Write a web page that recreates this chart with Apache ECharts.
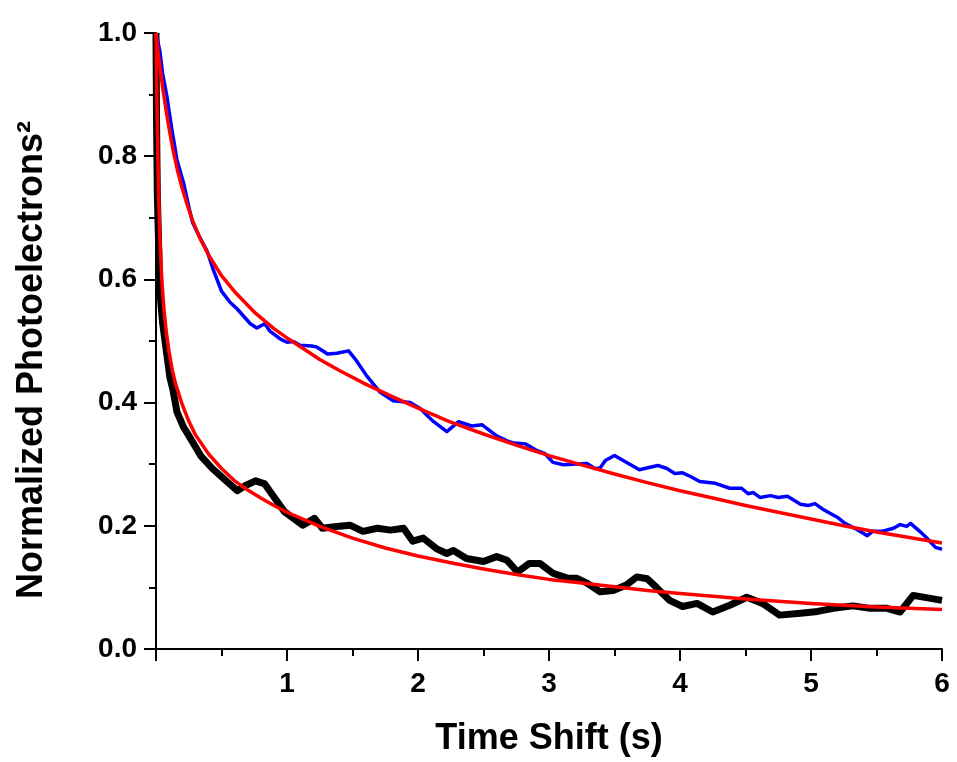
<!DOCTYPE html>
<html>
<head>
<meta charset="utf-8">
<script src="https://cdn.jsdelivr.net/npm/echarts@6/dist/echarts.min.js"></script>
<style>
html,body{margin:0;padding:0;background:#fff;}
#chart{width:957px;height:762px;}
</style>
</head>
<body>
<div id="chart"></div>
<script>
// x tick labels / y tick labels
var xTicks = [0, 1, 2, 3, 4, 5, 6];
var yTicks = [0.0, 0.2, 0.4, 0.6, 0.8, 1.0];

// Blue measured curve [time (s), value]
var blueData = [
  [0,1.0],[0.01,0.99],[0.03,0.97],[0.05,0.935],[0.084,0.896],[0.12,0.845],[0.16,0.794],[0.21,0.757],
  [0.26,0.709],[0.28,0.692],[0.33,0.67],[0.39,0.646],[0.435,0.617],[0.50,0.581],[0.565,0.563],
  [0.62,0.552],[0.72,0.528],[0.77,0.521],[0.83,0.528],[0.87,0.516],[0.95,0.503],[1.0,0.498],
  [1.05,0.499],[1.10,0.493],[1.19,0.492],[1.23,0.490],[1.31,0.479],[1.38,0.480],[1.47,0.484],
  [1.53,0.468],[1.61,0.443],[1.71,0.417],[1.81,0.403],[1.94,0.40],[2.02,0.39],[2.07,0.379],
  [2.12,0.369],[2.17,0.361],[2.22,0.353],[2.31,0.369],[2.41,0.362],[2.49,0.364],[2.60,0.346],
  [2.68,0.338],[2.72,0.335],[2.82,0.333],[2.91,0.322],[2.97,0.317],[3.03,0.303],[3.11,0.299],
  [3.29,0.301],[3.35,0.293],[3.39,0.294],[3.43,0.306],[3.50,0.314],[3.59,0.303],[3.69,0.291],
  [3.83,0.298],[3.90,0.293],[3.96,0.285],[4.02,0.286],[4.08,0.28],[4.15,0.272],[4.27,0.269],
  [4.38,0.261],[4.47,0.261],[4.52,0.252],[4.56,0.254],[4.61,0.246],[4.69,0.249],[4.75,0.246],
  [4.82,0.248],[4.92,0.235],[4.98,0.233],[5.03,0.236],[5.09,0.227],[5.20,0.214],[5.26,0.204],
  [5.35,0.194],[5.43,0.184],[5.47,0.191],[5.54,0.191],[5.63,0.196],[5.68,0.202],[5.73,0.199],
  [5.76,0.204],[5.83,0.191],[5.88,0.181],[5.95,0.165],[6.0,0.162]
];

// Upper red fit
var fitUpper = [
  [0,1.0],[0.01,0.98],[0.02,0.962],[0.035,0.937],[0.05,0.913],[0.075,0.877],[0.1,0.845],[0.13,0.81],
  [0.165,0.776],[0.2,0.748],[0.24,0.72],[0.28,0.695],[0.34,0.665],[0.4,0.64],[0.5,0.606],[0.6,0.58],
  [0.75,0.547],[0.9,0.52],[1.0,0.505],[1.1,0.491],[1.25,0.47],[1.4,0.452],[1.6,0.43],[1.8,0.41],
  [2.0,0.391],[2.24,0.369],[2.5,0.349],[2.75,0.331],[3.0,0.314],[3.25,0.299],[3.5,0.284],[3.75,0.27],
  [4.0,0.257],[4.25,0.245],[4.5,0.233],[4.75,0.222],[5.0,0.211],[5.25,0.2],[5.5,0.19],[5.75,0.181],[6.0,0.172]
];

// Black measured curve (centre of noisy band)
var blackData = [
  [0,1.0],[0.004,0.86],[0.01,0.74],[0.015,0.697],[0.03,0.58],[0.05,0.53],[0.08,0.482],[0.107,0.44],
  [0.13,0.42],[0.16,0.385],[0.21,0.36],[0.24,0.35],[0.31,0.325],[0.34,0.314],[0.43,0.293],[0.54,0.272],
  [0.62,0.257],[0.68,0.265],[0.76,0.273],[0.83,0.268],[0.91,0.244],[0.98,0.223],[1.05,0.212],
  [1.12,0.201],[1.21,0.212],[1.27,0.196],[1.38,0.199],[1.48,0.201],[1.58,0.191],[1.69,0.196],
  [1.79,0.193],[1.89,0.196],[1.96,0.175],[2.04,0.18],[2.14,0.163],[2.22,0.155],[2.27,0.16],
  [2.37,0.147],[2.5,0.142],[2.6,0.15],[2.68,0.144],[2.76,0.125],[2.85,0.139],[2.93,0.139],
  [3.03,0.123],[3.14,0.115],[3.21,0.115],[3.29,0.107],[3.39,0.093],[3.49,0.095],[3.59,0.104],
  [3.67,0.117],[3.75,0.114],[3.82,0.1],[3.92,0.079],[4.02,0.069],[4.13,0.074],[4.25,0.06],
  [4.38,0.071],[4.51,0.084],[4.63,0.074],[4.76,0.055],[4.92,0.058],[5.05,0.061],[5.17,0.066],
  [5.32,0.07],[5.45,0.066],[5.58,0.066],[5.68,0.06],[5.78,0.087],[5.89,0.083],[6.0,0.079]
];

// Lower red fit
var fitLower = [
  [0,1.0],[0.005,0.92],[0.01,0.85],[0.015,0.79],[0.02,0.74],[0.03,0.665],[0.045,0.597],[0.06,0.553],
  [0.08,0.512],[0.1,0.482],[0.125,0.452],[0.15,0.43],[0.2,0.397],[0.25,0.37],[0.3,0.348],[0.4,0.317],
  [0.5,0.293],[0.6,0.273],[0.7,0.258],[0.8,0.245],[0.9,0.233],[1.0,0.222],[1.25,0.199],[1.5,0.18],
  [1.75,0.164],[2.0,0.151],[2.25,0.14],[2.5,0.13],[2.75,0.121],[3.0,0.113],[3.25,0.107],[3.5,0.101],
  [3.75,0.095],[4.0,0.09],[4.5,0.081],[5.0,0.074],[5.5,0.068],[6.0,0.064]
];

var FONT = '"Liberation Sans", Arial, sans-serif';
var chart = echarts.init(document.getElementById('chart'), null, {renderer: 'canvas'});
var axisCommon = {
  axisLine: {show: true, onZero: false, lineStyle: {color: '#000', width: 2}},
  axisTick: {show: true, inside: false, length: 12, lineStyle: {color: '#000', width: 2}},
  minorTick: {show: true, splitNumber: 2, length: 7, lineStyle: {color: '#000', width: 2}},
  splitLine: {show: false},
  minorSplitLine: {show: false}
};
var option = {
  animation: false,
  backgroundColor: '#fff',
  grid: {left: 156, right: 15, top: 33, bottom: 111, containLabel: false},
  xAxis: Object.assign({
    type: 'value',
    min: xTicks[0], max: xTicks[xTicks.length - 1], interval: 1,
    name: 'Time Shift (s)', nameLocation: 'middle', nameGap: 72,
    nameTextStyle: {fontFamily: FONT, fontWeight: 'bold', fontSize: 36, color: '#000'},
    axisLabel: {
      fontFamily: FONT, fontWeight: 'bold', fontSize: 28, color: '#000', margin: 21,
      formatter: function (v) { return v === 0 ? '' : String(v); }
    }
  }, axisCommon),
  yAxis: Object.assign({
    type: 'value',
    min: yTicks[0], max: yTicks[yTicks.length - 1], interval: 0.2,
    name: 'Normalized Photoelectrons\u00B2', nameLocation: 'middle', nameGap: 106,
    nameTextStyle: {fontFamily: FONT, fontWeight: 'bold', fontSize: 36, color: '#000', padding: [0, 38, 0, 0]},
    axisLabel: {
      fontFamily: FONT, fontWeight: 'bold', fontSize: 28, color: '#000', margin: 19,
      formatter: function (v) { return v.toFixed(1); }
    }
  }, axisCommon),
  series: [
    {type: 'line', data: blackData, showSymbol: false, symbol: 'none', smooth: false,
     lineStyle: {color: '#000', width: 7, join: 'round'}, z: 2},
    {type: 'line', data: blueData, showSymbol: false, symbol: 'none', smooth: false,
     lineStyle: {color: '#0000ff', width: 3.5, join: 'round'}, z: 3},
    {type: 'line', data: fitLower, showSymbol: false, symbol: 'none', smooth: false,
     lineStyle: {color: '#ff0000', width: 3.5, join: 'round'}, z: 4},
    {type: 'line', data: fitUpper, showSymbol: false, symbol: 'none', smooth: false,
     lineStyle: {color: '#ff0000', width: 3.5, join: 'round'}, z: 4}
  ]
};
chart.setOption(option);
</script>
</body>
</html>
